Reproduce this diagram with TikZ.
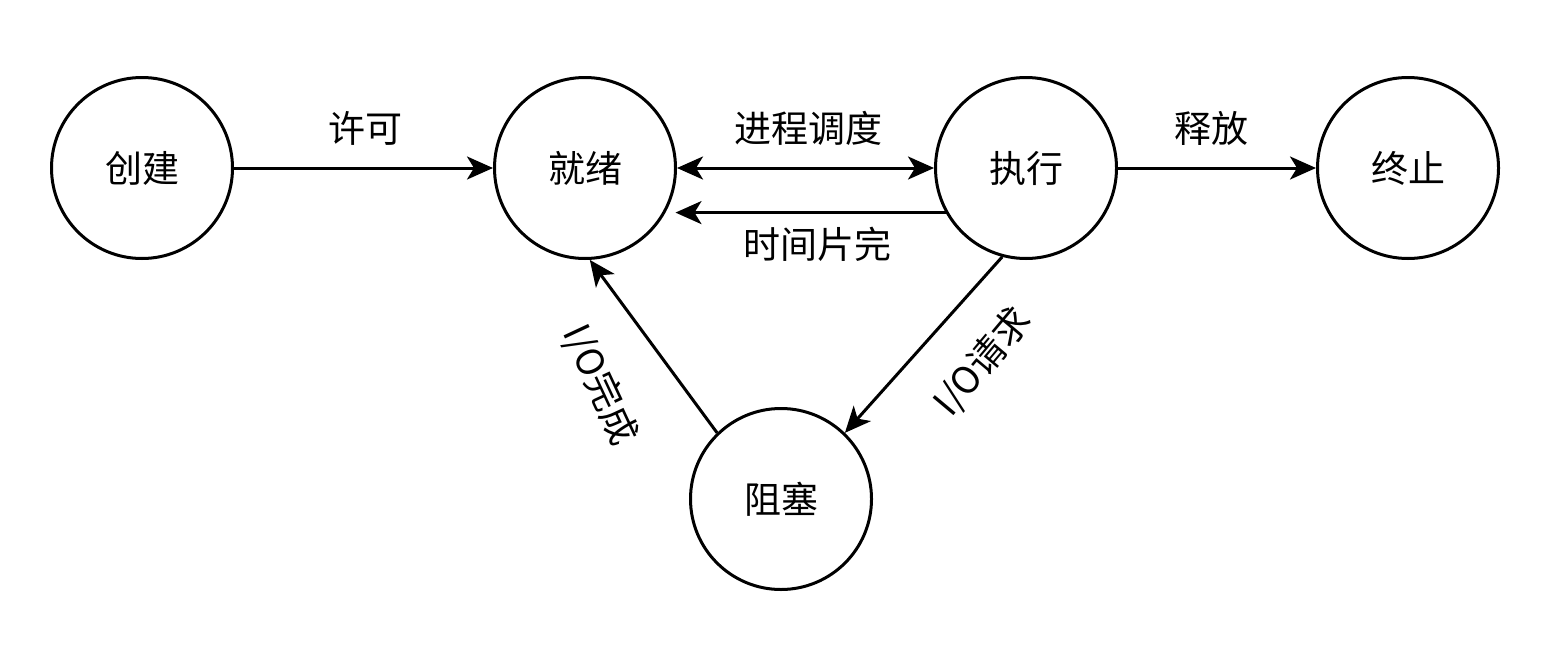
\documentclass[tikz,border=0pt]{standalone}
\usepackage{fontspec}
\setmainfont{Noto Sans CJK SC}
\usetikzlibrary{arrows.meta}
\tikzset{
  state/.style={circle,draw=black,line width=1.5pt,minimum size=90.5pt,inner sep=0pt,font=\fontsize{18.5}{22}\selectfont},
  lbl/.style={font=\fontsize{18.5}{22}\selectfont,inner sep=0pt},
  arr/.style={line width=1.5pt,-{Stealth[length=13pt,width=11.5pt,inset=3.5pt]}},
  arrb/.style={line width=1.5pt,{Stealth[length=13pt,width=11.5pt,inset=3.5pt]}-{Stealth[length=13pt,width=11.5pt,inset=3.5pt]}}
}
\begin{document}
\begin{tikzpicture}[x=0.5pt,y=-0.5pt]
\useasboundingbox (0,0) rectangle (1556,648);
\node[state] (c1) at (142,168) {创建};
\node[state] (c2) at (585,168) {就绪};
\node[state] (c3) at (1026,168) {执行};
\node[state] (c4) at (1408,168) {终止};
\node[state] (c5) at (781,499) {阻塞};
\draw[arr] (c1) -- (c2);
\draw[arrb] (c2) -- (c3);
\draw[arr] (c3) -- (c4);
\draw[arr,shorten >=5pt] (c3.209.3) -- (c2.-29.3);
\draw[arr] (c3.255) -- (c5.46.7);
\draw[arr] (c5.134.6) -- (c2.-87);
\node[lbl] (l1) at (365,128) {许可};
\node[lbl] (l2) at (808,128) {进程调度};
\node[lbl] (l3) at (1211,128) {释放};
\node[lbl] (l4) at (817,244) {时间片完};
\node[lbl,rotate=50] (l5) at (983,362) {I/O请求};
\node[lbl,rotate=-65] (l6) at (600,385) {I/O完成};
\end{tikzpicture}
\end{document}
